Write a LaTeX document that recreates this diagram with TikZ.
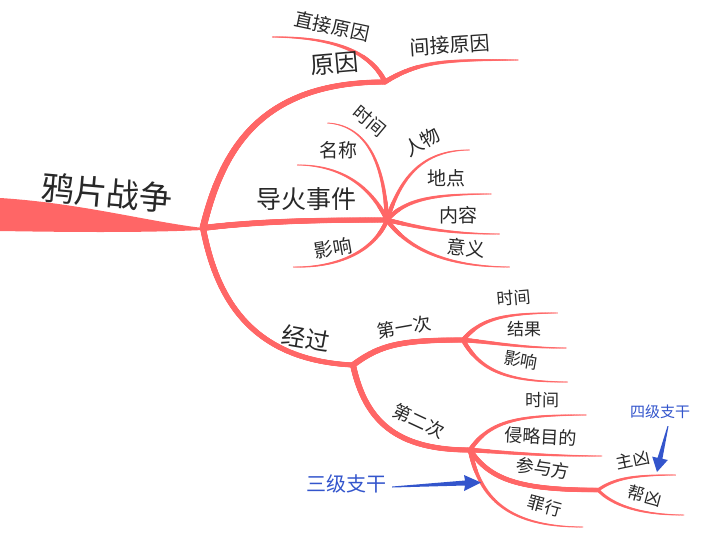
\documentclass[tikz,border=0pt]{standalone}
\usepackage{fontspec}
\setmainfont{Noto Sans CJK SC}
\usetikzlibrary{decorations.markings,calc}
\definecolor{br}{RGB}{255,102,102}
\definecolor{ann}{RGB}{51,85,204}
\definecolor{txt}{RGB}{40,40,40}
\tikzset{
  taper/.style 2 args={postaction={decorate,decoration={markings,
    mark=between positions 0 and 1 step 0.6pt with {
      \pgfmathsetmacro\tr{(#1+(#2-#1)*(\pgfkeysvalueof{/pgf/decoration/mark info/distance from start})/(\pgfdecoratedpathlength))/2}
      \fill[br] (0,0) circle[radius=\tr pt];}}}},
  lab/.style={text=txt, inner sep=0pt, font=\fontsize{#1}{#1}\selectfont},
  annlab/.style={text=ann, inner sep=0pt, font=\fontsize{#1}{#1}\selectfont},
}
\begin{document}
\begin{tikzpicture}[x=1pt,y=-1pt]
\useasboundingbox (0,0) rectangle (702,538);
% hubs
\coordinate (h1) at (203,228);
\coordinate (h2) at (385,82);
\coordinate (h3) at (387,220);
\coordinate (h4) at (353,365);
\coordinate (h5) at (463,340);
\coordinate (h6) at (470,450);
\coordinate (h7) at (598,490);
% ends
\coordinate (e11) at (272,37);
\coordinate (e12) at (518,60);
\coordinate (e21) at (327,123);
\coordinate (e22) at (297,165);
\coordinate (e23) at (293,267);
\coordinate (e24) at (470,150);
\coordinate (e25) at (492,194);
\coordinate (e26) at (500,234);
\coordinate (e27) at (510,267);
\coordinate (e31) at (558,313);
\coordinate (e32) at (567,348);
\coordinate (e33) at (568,382);
\coordinate (e41) at (587,415);
\coordinate (e42) at (602,456);
\coordinate (e43) at (583,527);
\coordinate (e51) at (676,475);
\coordinate (e52) at (684,515);

% trunk
\fill[br] (0,198) .. controls (80,203) and (150,222) .. (h1) -- (203,230) .. controls (140,233) and (60,232) .. (0,231) -- cycle;

% level 1
\path[taper={7}{5}] (h1) .. controls (222,150) and (260,82) .. (h2);
\path[taper={6}{5}] (h1) .. controls (260,221) and (320,220) .. (h3);
\path[taper={6}{5}] (h1) .. controls (215,290) and (245,360) .. (h4);

% 原因
\path[taper={5}{1.2}] (h2) .. controls (370,50) and (330,37) .. (e11);
\path[taper={5}{1.2}] (h2) .. controls (420,60) and (450,60) .. (e12);

% 导火事件
\path[taper={4.5}{1}] (h3) .. controls (384,160) and (365,125) .. (e21);
\path[taper={4.5}{1}] (h3) .. controls (370,185) and (340,165) .. (e22);
\path[taper={4.5}{1}] (h3) .. controls (375,250) and (340,268) .. (e23);
\path[taper={4.5}{1}] (h3) .. controls (400,180) and (420,150) .. (e24);
\path[taper={4.5}{1}] (h3) .. controls (405,200) and (430,194) .. (e25);
\path[taper={4.5}{1}] (h3) .. controls (410,225) and (440,234) .. (e26);
\path[taper={4.5}{1}] (h3) .. controls (405,245) and (440,267) .. (e27);

% 经过
\path[taper={6}{5}] (h4) .. controls (380,345) and (400,340) .. (h5);
\path[taper={6}{5}] (h4) .. controls (365,420) and (395,450) .. (h6);

% 第一次
\path[taper={4.5}{1}] (h5) .. controls (480,320) and (500,313) .. (e31);
\path[taper={4.5}{1}] (h5) .. controls (490,342) and (520,348) .. (e32);
\path[taper={4.5}{1}] (h5) .. controls (480,370) and (505,382) .. (e33);

% 第二次
\path[taper={4.5}{1}] (h6) .. controls (490,420) and (520,415) .. (e41);
\path[taper={4.5}{1}] (h6) .. controls (500,452) and (540,456) .. (e42);
\path[taper={5}{4.5}] (h6) .. controls (490,480) and (520,490) .. (h7);
\path[taper={4.5}{1}] (h6) .. controls (480,500) and (510,527) .. (e43);

% 参与方
\path[taper={3.5}{1}] (h7) .. controls (615,478) and (635,475) .. (e51);
\path[taper={3.5}{1}] (h7) .. controls (612,505) and (640,515) .. (e52);

% labels
\node[lab=33, rotate=-5] (root) at (107,193) {鸦片战争};
\node[lab=24, rotate=5] (n1) at (335,64) {原因};
\node[lab=19, rotate=-12] (n11) at (332,26) {直接原因};
\node[lab=20, rotate=4] (n12) at (450,45) {间接原因};
\node[lab=25] (n2) at (306,199) {导火事件};
\node[lab=18, rotate=-40] (n21) at (370,121) {时间};
\node[lab=19] (n22) at (338,150) {名称};
\node[lab=19, rotate=10] (n23) at (333,248) {影响};
\node[lab=19, rotate=30] (n24) at (422,142) {人物};
\node[lab=19] (n25) at (446,178) {地点};
\node[lab=19] (n26) at (458,215) {内容};
\node[lab=19, rotate=-5] (n27) at (466,248) {意义};
\node[lab=24, rotate=-10] (n3) at (306,338) {经过};
\node[lab=18, rotate=10] (n31) at (404,327) {第一次};
\node[lab=18, rotate=-25] (n32) at (419,421) {第二次};
\node[lab=17, rotate=5] (n311) at (514,298) {时间};
\node[lab=17] (n312) at (524,329) {结果};
\node[lab=17, rotate=-10] (n313) at (521,360) {影响};
\node[lab=17] (n321) at (542,400) {时间};
\node[lab=18, rotate=-3] (n322) at (541,437) {侵略目的};
\node[lab=18, rotate=-8] (n323) at (543,468) {参与方};
\node[lab=17, rotate=-15] (n324) at (545,506) {罪行};
\node[lab=17, rotate=12] (n3231) at (633,460) {主凶};
\node[lab=17, rotate=-15] (n3232) at (645,496) {帮凶};

% annotations
\node[annlab=20] (t3) at (346,484) {三级支干};
\node[annlab=15] (t4) at (660,412) {四级支干};
\coordinate (a3t) at (481,482.5);
\coordinate (a4t) at (657,472);
\fill[ann] ($(t3.east)+(6,2.5)$) -- (465,480.5) -- (464,475) -- (a3t) -- (464,491) -- (465,485.5) -- ($(t3.east)+(6,3.5)$) -- cycle;
\fill[ann] ($(t4.south)+(7.5,7)$) -- (657.6,457.8) -- (652.2,456.6) -- (a4t) -- (667.8,460) -- (662.4,458.8) -- ($(t4.south)+(8.5,7)$) -- cycle;
\end{tikzpicture}
\end{document}
